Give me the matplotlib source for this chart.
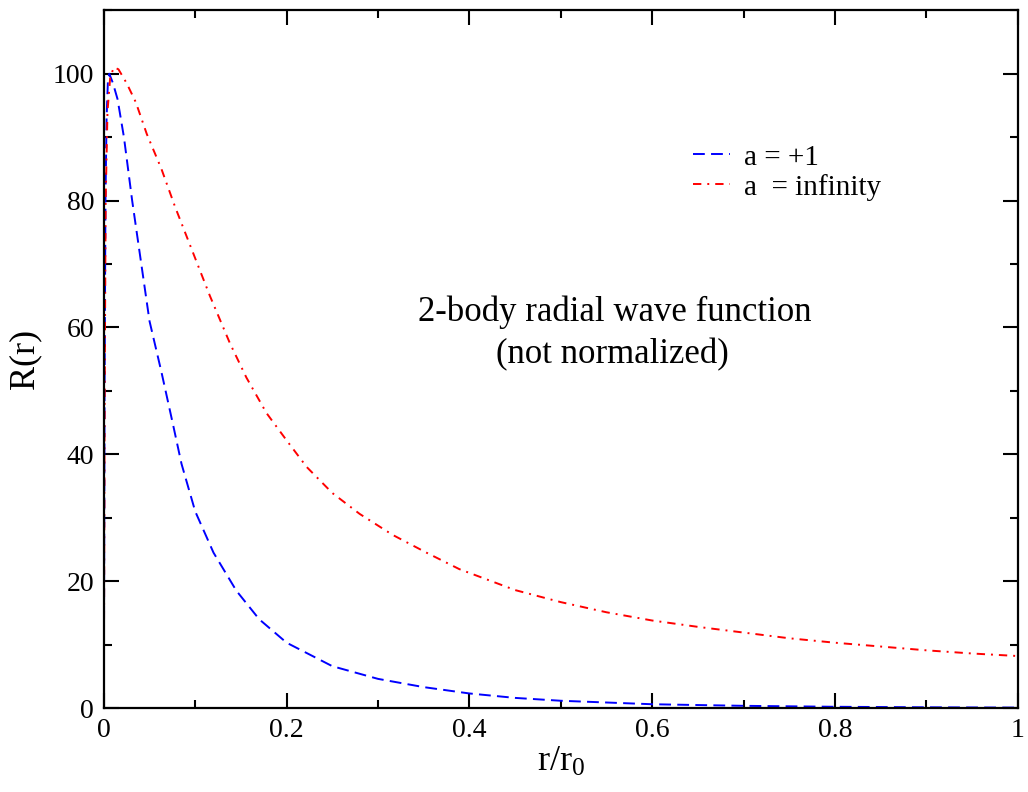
import matplotlib
matplotlib.use("Agg")
import matplotlib.pyplot as plt
from matplotlib.ticker import MultipleLocator

# values
r_a1 = [0.0, 0.0008, 0.0018, 0.003, 0.0045, 0.006, 0.01, 0.015, 0.022, 0.031,
        0.041, 0.05, 0.063, 0.076, 0.085, 0.1, 0.12, 0.145, 0.17, 0.2,
        0.25, 0.3, 0.35, 0.4, 0.45, 0.5, 0.6, 0.7, 0.8, 0.9, 1.0]
R_a1 = [0.0, 50, 80, 93, 99, 100, 98.5, 96, 90, 80,
        70, 61, 53, 44.5, 38.5, 31, 24.5, 18.5, 14, 10.3,
        6.6, 4.6, 3.3, 2.3, 1.6, 1.15, 0.6, 0.35, 0.2, 0.12, 0.07]

r_inf = [0.0, 0.0008, 0.002, 0.004, 0.007, 0.011, 0.016, 0.025, 0.035, 0.047,
         0.063, 0.078, 0.097, 0.116, 0.138, 0.156, 0.178, 0.2, 0.222, 0.25,
         0.28, 0.316, 0.353, 0.389, 0.45, 0.5, 0.55, 0.6, 0.65, 0.7,
         0.75, 0.8, 0.85, 0.9, 0.95, 1.0]
R_inf = [0.0, 45, 80, 94, 99.5, 101, 100.7, 98.5, 95.5, 90.5,
         85, 79, 72, 65, 57.5, 52.1, 46.5, 42.2, 38.0, 33.9,
         30.6, 27.3, 24.5, 21.9, 18.6, 16.7, 15.1, 13.8, 12.8, 11.9,
         11.0, 10.3, 9.7, 9.1, 8.6, 8.2]

labels = ["a = +1", "a  = infinity"]

plt.rcParams['font.family'] = ['Liberation Serif', 'DejaVu Serif']
plt.rcParams['mathtext.default'] = 'regular'
plt.rcParams['lines.scale_dashes'] = False

fig = plt.figure(figsize=(10.28, 7.92), dpi=100)
ax = fig.add_axes([0.101, 0.106, 0.889, 0.881])

ax.plot(r_a1, R_a1, color='blue', lw=1.4, dashes=(8.5, 4.5), label=labels[0])
ax.plot(r_inf, R_inf, color='red', lw=1.4, dashes=(6, 4.3, 1.4, 4.3), label=labels[1])

ax.set_xlim(0, 1)
ax.set_ylim(0, 110)
ax.xaxis.set_major_locator(MultipleLocator(0.2))
ax.xaxis.set_minor_locator(MultipleLocator(0.1))
ax.yaxis.set_major_locator(MultipleLocator(20))
ax.yaxis.set_minor_locator(MultipleLocator(10))
ax.set_xticks([0, 0.2, 0.4, 0.6, 0.8, 1.0])
ax.set_xticklabels(["0", "0.2", "0.4", "0.6", "0.8", "1"])

ax.tick_params(which='both', direction='in', top=True, right=True, width=1.5,
               labelsize=20, pad=7)
ax.tick_params(which='major', length=11)
ax.tick_params(which='minor', length=6)
for s in ax.spines.values():
    s.set_linewidth(1.6)

ax.set_xlabel('r/r$_0$', fontsize=26, labelpad=2)
ax.set_ylabel('R(r)', fontsize=26, labelpad=8)

ax.text(0.559, 0.567, "2-body radial wave function", transform=ax.transAxes,
        ha='center', va='center', fontsize=25)
ax.text(0.556, 0.507, "(not normalized)", transform=ax.transAxes,
        ha='center', va='center', fontsize=25)

ax.legend(loc='upper left', bbox_to_anchor=(0.645, 0.808), frameon=False,
          fontsize=21, borderpad=0, borderaxespad=0, handlelength=1.25,
          handletextpad=0.5, labelspacing=0.1)

plt.savefig('out.png', dpi=100)
plt.close()
